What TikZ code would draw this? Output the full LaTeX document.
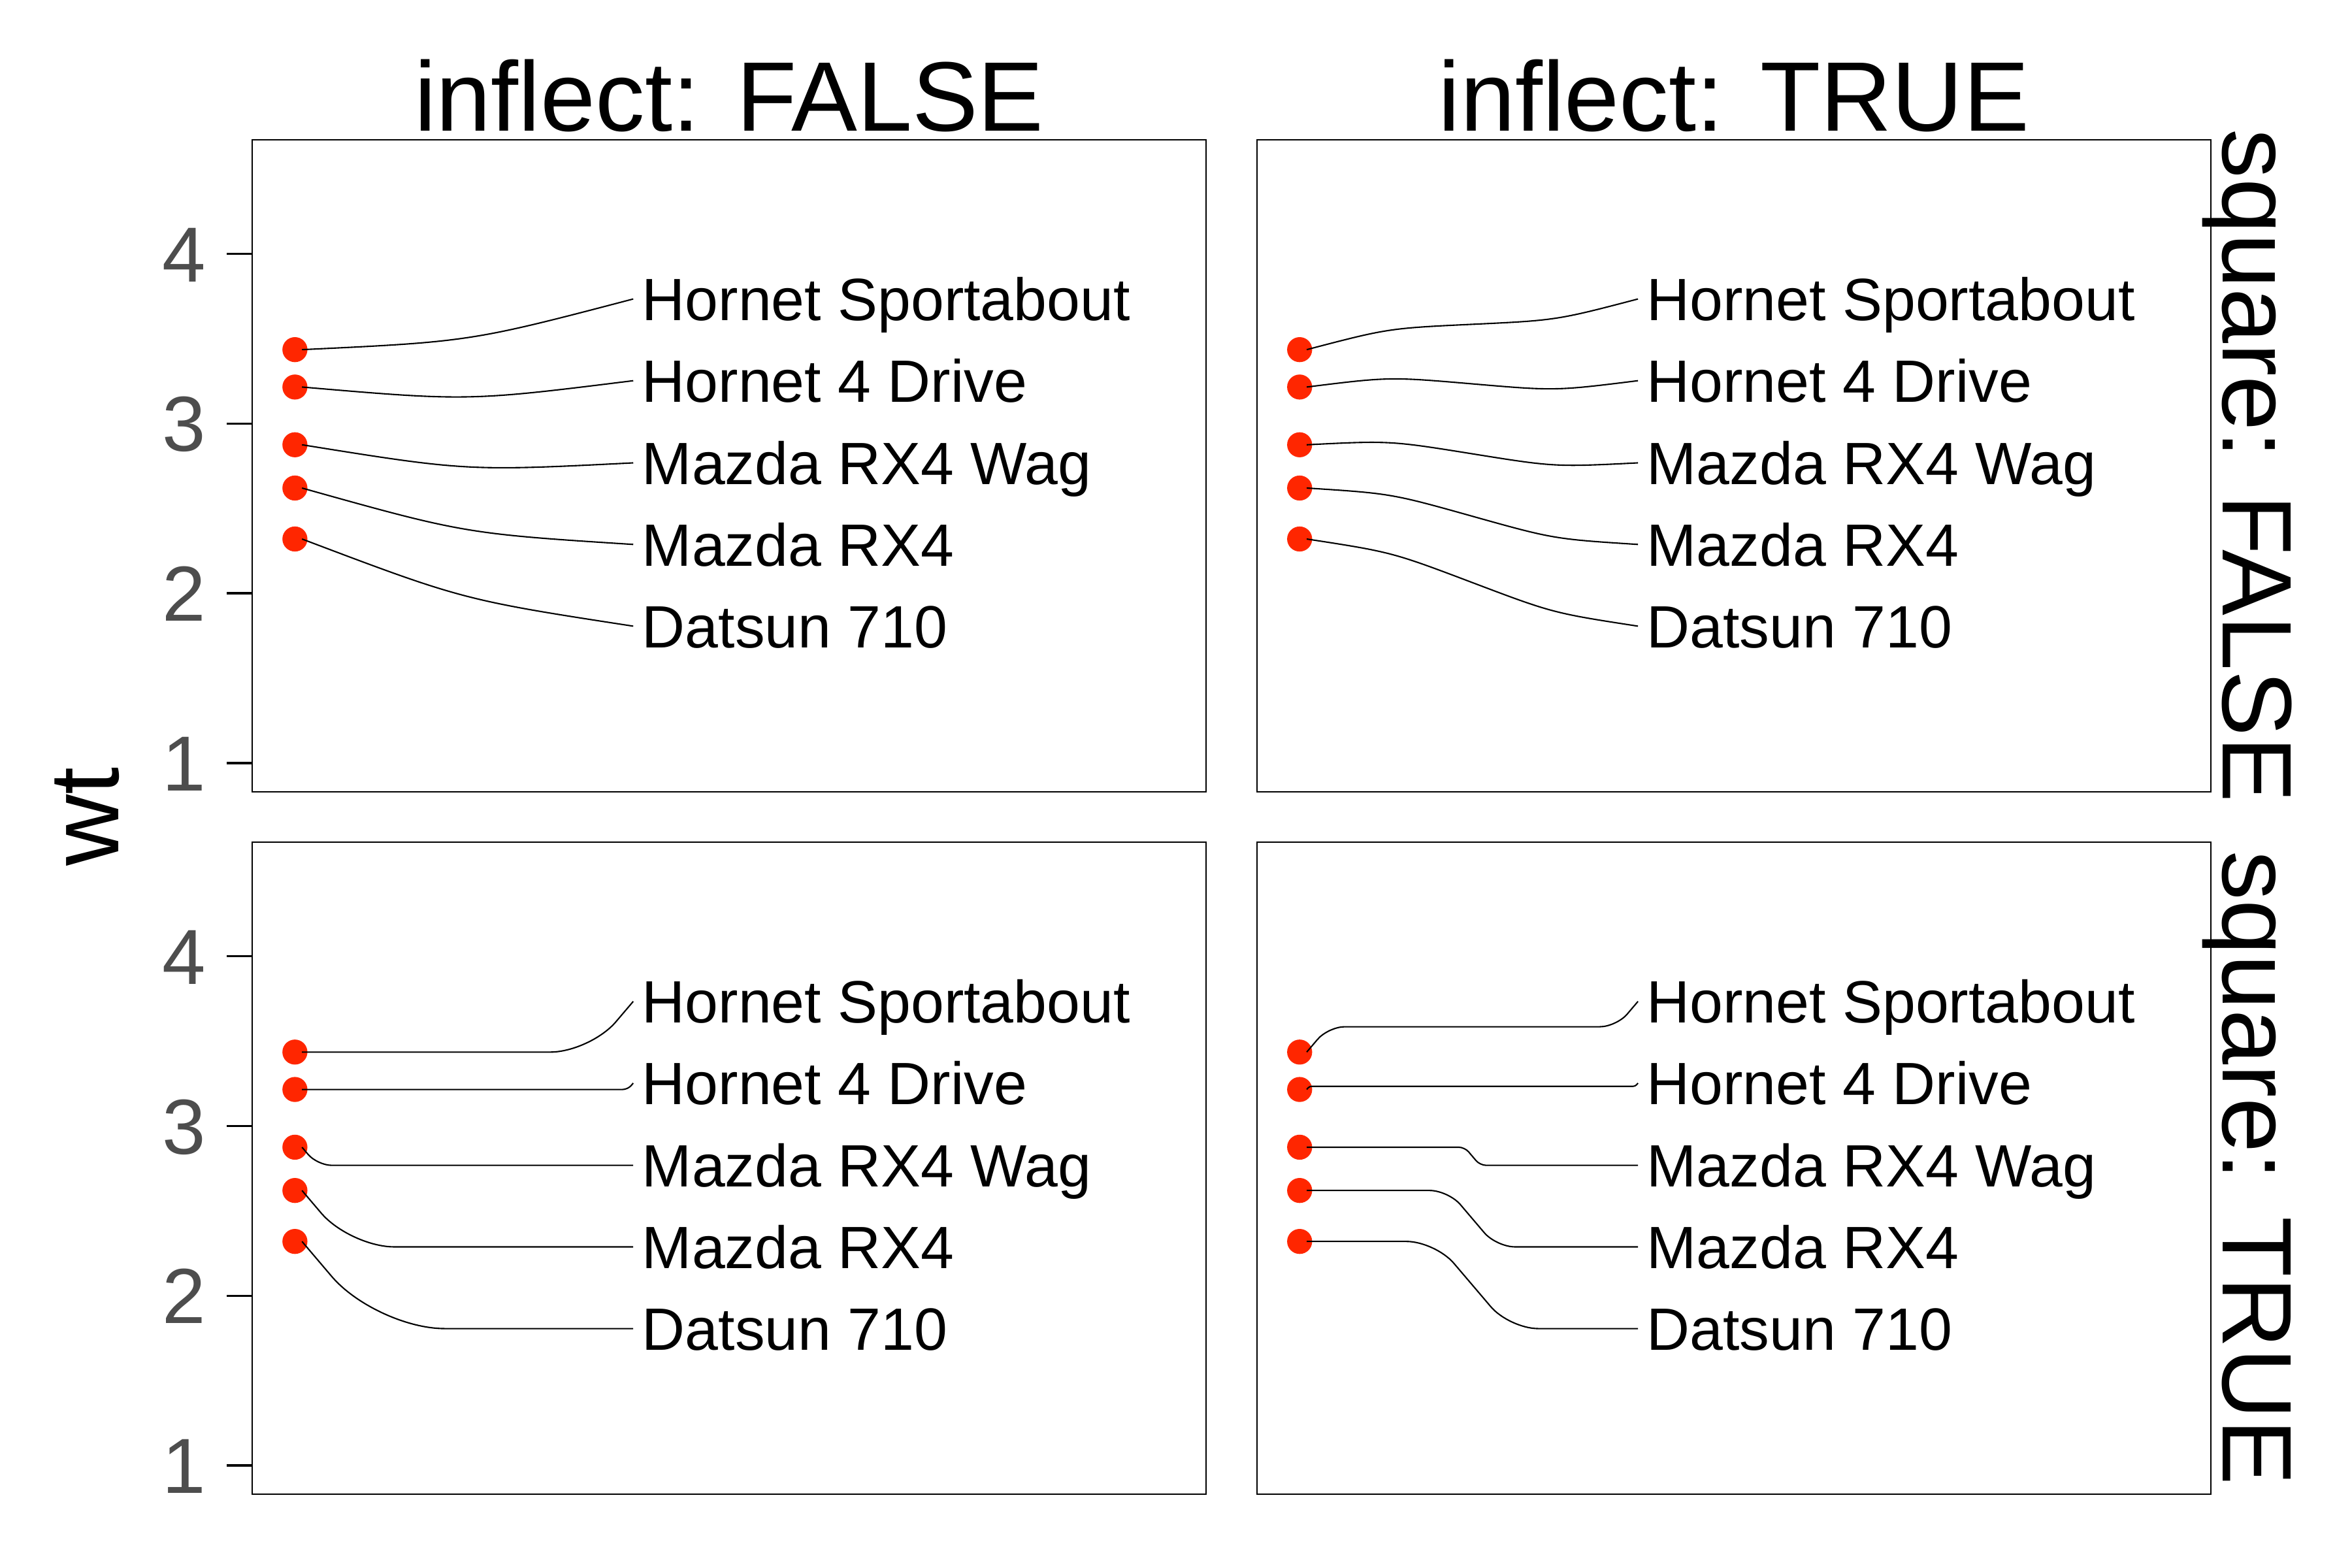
\documentclass[tikz,border=0pt]{standalone}
\usepackage{fontspec}
\setmainfont{Liberation Sans}
\usetikzlibrary{calc}
\definecolor{dotred}{RGB}{255,38,0}
\definecolor{axgrey}{RGB}{77,77,77}
\tikzset{
  conn/.style={line width=0.6pt, black},
  frame/.style={line width=0.5pt, black},
  tickmark/.style={line width=0.95pt, black},
  dot/.style={circle, fill=dotred, draw=none, inner sep=0pt, minimum size=10.9pt},
  lab/.style={inner sep=0pt, anchor=base west, font=\fontsize{26}{30}\selectfont},
  ticklab/.style={inner sep=0pt, anchor=base east, text=axgrey, font=\fontsize{34}{40}\selectfont},
  striplab/.style={inner sep=0pt, anchor=base, font=\fontsize{43}{50}\selectfont},
}
\begin{document}
\begin{tikzpicture}[x=0.023077cm, y=-0.023077cm]
\useasboundingbox (0,0) rectangle (1560,1040);

% panel frames
\draw[frame] (167.2,92.6) rectangle (800.0,525.2);
\draw[frame] (833.6,92.6) rectangle (1466.4,525.2);
\draw[frame] (167.2,558.5) rectangle (800.0,991.1);
\draw[frame] (833.6,558.5) rectangle (1466.4,991.1);

% y axis ticks and labels
\foreach \v/\ty in {4/168.3, 3/280.9, 2/393.5, 1/506.1} {
  \draw[tickmark] (150.5,\ty) -- (167.2,\ty);
  \node[ticklab] (yt-top-\v) at (136.7,\ty+18.5) {\v};
  \draw[tickmark] (150.5,\ty+465.9) -- (167.2,\ty+465.9);
  \node[ticklab] (yt-bot-\v) at (136.7,\ty+465.9+18.5) {\v};
}

% strip and axis titles
\node[striplab] (colF) at (483.6,86.7) {inflect: FALSE};
\node[striplab] (colT) at (1150.0,86.7) {inflect: TRUE};
\node[striplab, rotate=-90] (rowF) at (1474.3,308.9) {square: FALSE};
\node[striplab, rotate=-90] (rowT) at (1474.3,774.8) {square: TRUE};
\node[striplab, rotate=90] (ylab) at (78.7,541.8) {wt};

% points, anchors and labels
\foreach \i/\py/\ly/\txt in {1/231.9/198.3/Hornet Sportabout, 2/256.7/252.5/Hornet 4 Drive, 3/295.0/307.0/Mazda RX4 Wag, 4/323.7/361.1/Mazda RX4, 5/357.5/415.3/Datsun 710} {
  \foreach \p/\ox/\oy in {tl/0/0, tr/666.4/0, bl/0/465.9, br/666.4/465.9} {
    \node[dot] (\p-d\i) at (195.6+\ox,\py+\oy) {};
    \coordinate (\p-s\i) at (200.3+\ox,\py+\oy);
    \coordinate (\p-e\i) at (420.0+\ox,\ly+\oy);
    \node[lab] (\p-l\i) at (425.6+\ox,\ly+\oy+14.2) {\txt};
  }
}

% inflect FALSE, square FALSE
\foreach \i in {1,...,5} {
  \draw[conn] (tl-s\i) .. controls ($(tl-s\i)!0.5!-6:(tl-e\i)$) and ($(tl-e\i)!0.5!6:(tl-s\i)$) .. (tl-e\i);
}
% inflect TRUE, square FALSE
\foreach \i in {1,...,5} {
  \coordinate (tr-m\i) at ($(tr-s\i)!0.5!(tr-e\i)$);
  \draw[conn] (tr-s\i) .. controls ($(tr-s\i)!0.25!6:(tr-e\i)$) and ($(tr-m\i)!0.5!-6:(tr-s\i)$) .. (tr-m\i)
      .. controls ($(tr-m\i)!0.5!-6:(tr-e\i)$) and ($(tr-e\i)!0.5!6:(tr-m\i)$) .. (tr-e\i);
}
% inflect FALSE, square TRUE
\foreach \i/\cx/\cy/\r in {1/391.4/697.8/17.3, 2/416.4/722.6/2.2, 3/210.5/772.9/6.2, 4/232.1/827.0/19.3, 5/249.4/881.2/29.9} {
  \coordinate (bl-c\i) at (\cx,\cy);
  \draw[conn, rounded corners=\r pt] (bl-s\i) -- (bl-c\i) -- (bl-e\i);
}
% inflect TRUE, square TRUE
\foreach \i/\ax/\ay/\bx/\by/\r in {1/881.0/681.0/1072.1/681.0/7.2, 2/868.5/720.5/1084.6/720.5/0.9, 3/971.45/760.9/981.65/772.9/2.6, 4/960.65/789.6/992.45/827.0/8.1, 5/951.95/823.4/1001.15/881.2/12.5} {
  \coordinate (br-a\i) at (\ax,\ay);
  \coordinate (br-b\i) at (\bx,\by);
  \draw[conn, rounded corners=\r pt] (br-s\i) -- (br-a\i) -- (br-b\i) -- (br-e\i);
}
\end{tikzpicture}
\end{document}
